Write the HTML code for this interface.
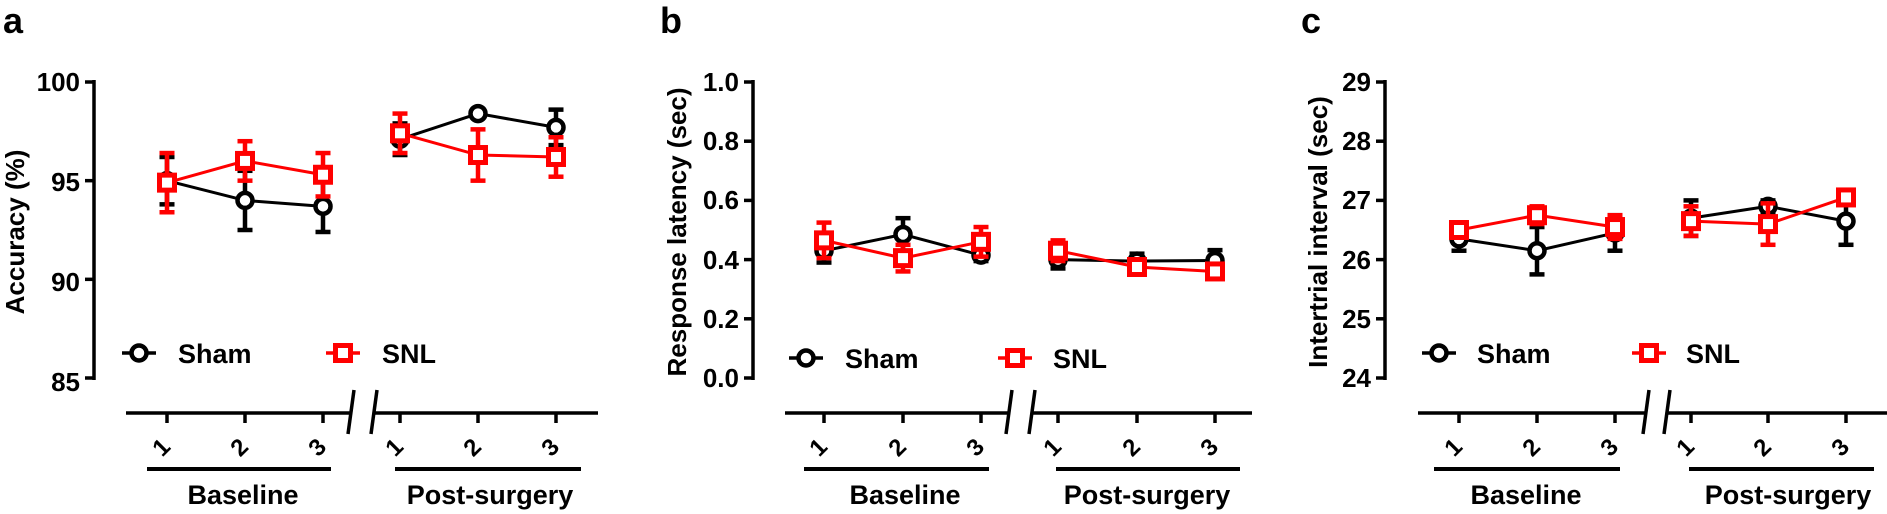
<!DOCTYPE html>
<html><head><meta charset="utf-8"><style>
html,body{margin:0;padding:0;background:#fff;}
svg{display:block;}
text{font-family:"Liberation Sans",Arial,sans-serif;font-weight:bold;fill:#000;}
</style></head><body>
<svg id="s" width="1887" height="514" viewBox="0 0 1887 514" xmlns="http://www.w3.org/2000/svg">
<g id="g"></g>
<text x="3" y="33" font-size="36">a</text>
<text x="660" y="33" font-size="36">b</text>
<text x="1301" y="33" font-size="36">c</text>
<g font-size="26" text-anchor="end">
<text x="80" y="91">100</text><text x="80" y="191">95</text><text x="80" y="291">90</text><text x="80" y="391">85</text>
<text x="739" y="91">1.0</text><text x="739" y="150">0.8</text><text x="739" y="209">0.6</text><text x="739" y="269">0.4</text><text x="739" y="328">0.2</text><text x="739" y="387">0.0</text>
<text x="1371" y="91">29</text><text x="1371" y="150">28</text><text x="1371" y="209">27</text><text x="1371" y="269">26</text><text x="1371" y="328">25</text><text x="1371" y="387">24</text>
</g>
<g font-size="26" text-anchor="middle">
<text transform="translate(24,232) rotate(-90)">Accuracy (%)</text>
<text transform="translate(686,232) rotate(-90)">Response latency (sec)</text>
<text transform="translate(1327,232) rotate(-90)">Intertrial interval (sec)</text>
</g>
<g font-size="27">
<text x="178" y="363">Sham</text><text x="382" y="363">SNL</text>
<text x="845" y="368">Sham</text><text x="1053" y="368">SNL</text>
<text x="1477" y="363">Sham</text><text x="1686" y="363">SNL</text>
</g>
<g font-size="27" text-anchor="middle">
<text x="243" y="504">Baseline</text><text x="490" y="504">Post-surgery</text>
<text x="905" y="504">Baseline</text><text x="1147" y="504">Post-surgery</text>
<text x="1526" y="504">Baseline</text><text x="1788" y="504">Post-surgery</text>
</g>
<g font-size="24" text-anchor="middle">
<text transform="translate(167,453) rotate(-45)">1</text><text transform="translate(245,453) rotate(-45)">2</text><text transform="translate(323,453) rotate(-45)">3</text>
<text transform="translate(400,453) rotate(-45)">1</text><text transform="translate(478,453) rotate(-45)">2</text><text transform="translate(556,453) rotate(-45)">3</text>
<text transform="translate(824,453) rotate(-45)">1</text><text transform="translate(903,453) rotate(-45)">2</text><text transform="translate(981,453) rotate(-45)">3</text>
<text transform="translate(1058,453) rotate(-45)">1</text><text transform="translate(1137,453) rotate(-45)">2</text><text transform="translate(1215,453) rotate(-45)">3</text>
<text transform="translate(1459,453) rotate(-45)">1</text><text transform="translate(1537,453) rotate(-45)">2</text><text transform="translate(1615,453) rotate(-45)">3</text>
<text transform="translate(1691,453) rotate(-45)">1</text><text transform="translate(1768,453) rotate(-45)">2</text><text transform="translate(1846,453) rotate(-45)">3</text>
</g>
</svg>
<script>
var g=document.getElementById('g'),NS='http://www.w3.org/2000/svg';
function el(t,a){var e=document.createElementNS(NS,t);for(var k in a)e.setAttribute(k,a[k]);g.appendChild(e);return e;}
function ln(x1,y1,x2,y2,c,w){el('line',{x1:x1,y1:y1,x2:x2,y2:y2,stroke:c,'stroke-width':w});}
var P=[
 {ax:94,ticks:[100,95,90,85],min:85,max:100,xs:[167,245,323,400,478,556],x0:126,x1:598,br:[348,371],bars:[[147,331],[395,581]],
  leg:[[139,353],[343,353]],
  sham:[[95.0,1.2],[94.0,1.5],[93.7,1.3],[97.1,0.8],[98.4,0.2],[97.7,0.9]],
  snl:[[94.9,1.5],[96.0,1.0],[95.3,1.1],[97.4,1.0],[96.3,1.3],[96.2,1.0]]},
 {ax:753,ticks:[1,0.8,0.6,0.4,0.2,0],min:0,max:1,xs:[824,903,981,1058,1137,1215],x0:785,x1:1252,br:[1006,1029],bars:[[804,989],[1056,1240]],
  leg:[[806,358],[1015,358]],
  sham:[[0.43,0.04],[0.485,0.055],[0.415,0.02],[0.40,0.03],[0.395,0.025],[0.397,0.035]],
  snl:[[0.465,0.06],[0.405,0.045],[0.46,0.05],[0.43,0.035],[0.375,0.02],[0.36,0.02]]},
 {ax:1385,ticks:[29,28,27,26,25,24],min:24,max:29,xs:[1459,1537,1615,1691,1768,1846],x0:1418,x1:1887,br:[1643,1664],bars:[[1434,1620],[1689,1874]],
  leg:[[1439,353],[1649,353]],
  sham:[[26.35,0.2],[26.15,0.4],[26.45,0.3],[26.7,0.3],[26.9,0.1],[26.65,0.4]],
  snl:[[26.5,0.1],[26.75,0.15],[26.55,0.2],[26.65,0.25],[26.6,0.35],[27.05,0.1]]}
];
var RED='#f00';
P.forEach(function(p){
 var Y=function(v){return 82+(p.max-v)/(p.max-p.min)*296;};
 ln(p.ax,Y(p.max)-2,p.ax,Y(p.min)+2,'#000',3.5);
 p.ticks.forEach(function(t){ln(p.ax-9,Y(t),p.ax,Y(t),'#000',3.5);});
 var XY=413;
 ln(p.x0,XY,p.br[0]+3,XY,'#000',3.5);ln(p.br[1]+3,XY,p.x1,XY,'#000',3.5);
 p.br.forEach(function(b){ln(b,434,b+6,390,'#000',3.5);});
 p.xs.forEach(function(x){ln(x,XY,x,423,'#000',3.5);});
 p.bars.forEach(function(b){ln(b[0],469,b[1],469,'#000',4);});
 function series(d,c,sq){
  var pts=function(a,b){return d.slice(a,b).map(function(v,i){return p.xs[a+i]+','+Y(v[0]);}).join(' ');};
  el('polyline',{points:pts(0,3),fill:'none',stroke:c,'stroke-width':3});
  el('polyline',{points:pts(3,6),fill:'none',stroke:c,'stroke-width':3});
  d.forEach(function(v,i){var x=p.xs[i],y1=Y(v[0]+v[1]),y2=Y(v[0]-v[1]);
   ln(x,y1,x,y2,c,4.5);ln(x-7.5,y1,x+7.5,y1,c,4.5);ln(x-7.5,y2,x+7.5,y2,c,4.5);});
  d.forEach(function(v,i){var x=p.xs[i],y=Y(v[0]);
   if(sq)el('rect',{x:x-7.5,y:y-7.5,width:15,height:15,fill:'#fff',stroke:c,'stroke-width':5});
   else el('circle',{cx:x,cy:y,r:7.5,fill:'#fff',stroke:c,'stroke-width':4.5});});
 }
 series(p.sham,'#000',false);series(p.snl,RED,true);
 var l=p.leg[0];ln(l[0]-17,l[1],l[0]+17,l[1],'#000',3.5);el('circle',{cx:l[0],cy:l[1],r:7.5,fill:'#fff',stroke:'#000','stroke-width':4.5});
 l=p.leg[1];ln(l[0]-17,l[1],l[0]+17,l[1],RED,3.5);el('rect',{x:l[0]-7.5,y:l[1]-7.5,width:15,height:15,fill:'#fff',stroke:RED,'stroke-width':5});
});
</script>
</body></html>
